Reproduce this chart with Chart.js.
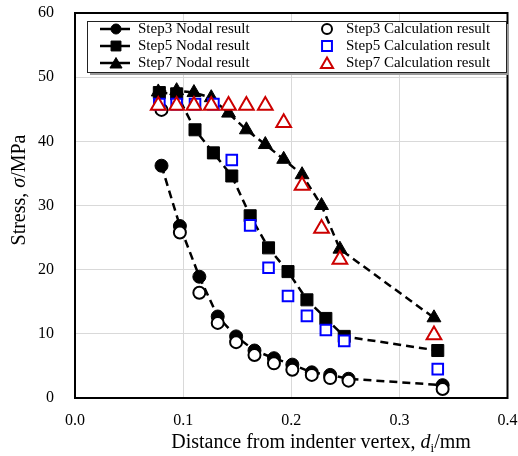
<!DOCTYPE html>
<html>
<head>
<meta charset="utf-8">
<script src="https://cdn.jsdelivr.net/npm/chart.js@4"></script>
<style>
  html, body { margin: 0; padding: 0; background: #fff; }
  #wrap { width: 518px; height: 456px; position: relative; }
</style>
</head>
<body>
<div id="wrap"><canvas id="c"></canvas></div>
<script>
// ---- Data ----
const step3X     = [0.080, 0.097, 0.115, 0.132, 0.149, 0.166, 0.184, 0.201, 0.219, 0.236, 0.253, 0.340];
const step3Nodal = [36.2, 26.8, 18.9, 12.7, 9.6, 7.4, 6.2, 5.2, 4.0, 3.6, 3.0, 2.0];
const step3Calc  = [44.9, 25.8, 16.4, 11.7, 8.7, 6.7, 5.4, 4.4, 3.6, 3.1, 2.7, 1.4];

const step5X     = [0.078, 0.094, 0.111, 0.128, 0.145, 0.162, 0.179, 0.197, 0.2145, 0.232, 0.249, 0.3355];
const step5Nodal = [47.6, 47.4, 41.8, 38.2, 34.6, 28.4, 23.4, 19.7, 15.3, 12.4, 9.6, 7.4];
const step5Calc  = [45.8, 45.8, 45.8, 45.8, 37.1, 26.9, 20.3, 15.9, 12.8, 10.6, 8.9, 4.5];

const step7X     = [0.077, 0.094, 0.110, 0.126, 0.142, 0.1585, 0.176, 0.193, 0.210, 0.228, 0.245, 0.332];
const step7Nodal = [47.7, 47.9, 47.6, 46.8, 44.4, 41.8, 39.5, 37.2, 34.8, 30.0, 23.2, 12.5];
const step7Calc  = [45.6, 45.6, 45.6, 45.6, 45.6, 45.6, 45.6, 42.9, 33.1, 26.4, 21.6, 9.8];

const seriesNames = [
  'Step3 Nodal result', 'Step5 Nodal result', 'Step7 Nodal result',
  'Step3 Calculation result', 'Step5 Calculation result', 'Step7 Calculation result'
];
const xTicks = [0.0, 0.1, 0.2, 0.3, 0.4];
const yTicks = [0, 10, 20, 30, 40, 50, 60];
const xTitleParts = [['Distance from indenter vertex, ', 'normal'], ['d', 'italic'], ['i', 'sub'], ['/mm', 'normal']];
const yTitleParts = [['Stress, ', 'normal'], ['σ', 'italic'], ['/MPa', 'normal']];

// ---- Build datasets ----
const pts = (xs, ys) => xs.map((x, i) => ({ x: x, y: ys[i] }));
const SERIF = '"Liberation Serif", "Times New Roman", serif';

function nodal(label, xs, ys, style, r) {
  return {
    label, data: pts(xs, ys), showLine: true,
    borderColor: '#000', borderWidth: 2.5, borderDash: [8, 5],
    pointStyle: style, pointRadius: r, pointHoverRadius: r,
    pointBackgroundColor: '#000', pointBorderColor: '#000', pointBorderWidth: 1,
    order: 5
  };
}
function calc(label, xs, ys, style, color, r, order) {
  return {
    label, data: pts(xs, ys), showLine: false,
    pointStyle: style, pointRadius: r, pointHoverRadius: r,
    pointBackgroundColor: '#fff', pointBorderColor: color, pointBorderWidth: 2,
    order
  };
}

const datasets = [
  nodal(seriesNames[0], step3X, step3Nodal, 'circle', 6.5),
  nodal(seriesNames[1], step5X, step5Nodal, 'rect', 8.5),
  nodal(seriesNames[2], step7X, step7Nodal, 'triangle', 8),
  calc(seriesNames[3], step3X, step3Calc, 'circle', '#000', 6, 3),
  calc(seriesNames[4], step5X, step5Calc, 'rect', '#0000ff', 7.5, 2),
  calc(seriesNames[5], step7X, step7Calc, 'triangle', '#cc0000', 8.5, 1)
];

// ---- Marker helper (same geometry as Chart.js) ----
function marker(ctx, style, x, y, r, fill, stroke, lw) {
  ctx.save();
  ctx.beginPath();
  if (style === 'circle') {
    ctx.arc(x, y, r, 0, Math.PI * 2);
  } else if (style === 'rect') {
    const s = Math.SQRT1_2 * r;
    ctx.rect(x - s, y - s, 2 * s, 2 * s);
  } else if (style === 'triangle') {
    let a = 0;
    ctx.moveTo(x + Math.sin(a) * r, y - Math.cos(a) * r);
    a += 2 * Math.PI / 3;
    ctx.lineTo(x + Math.sin(a) * r, y - Math.cos(a) * r);
    a += 2 * Math.PI / 3;
    ctx.lineTo(x + Math.sin(a) * r, y - Math.cos(a) * r);
    ctx.closePath();
  }
  ctx.fillStyle = fill; ctx.fill();
  ctx.lineWidth = lw; ctx.strokeStyle = stroke; ctx.stroke();
  ctx.restore();
}

function drawParts(ctx, parts, x, y, size) {
  let cx = x;
  for (const [t, kind] of parts) {
    if (kind === 'sub') {
      ctx.font = (size * 0.65) + 'px ' + SERIF;
      ctx.fillText(t, cx, y + size * 0.22);
    } else {
      ctx.font = (kind === 'italic' ? 'italic ' : '') + size + 'px ' + SERIF;
      ctx.fillText(t, cx, y);
    }
    cx += ctx.measureText(t).width;
  }
  return cx - x;
}
function measureParts(ctx, parts, size) {
  let w = 0;
  for (const [t, kind] of parts) {
    if (kind === 'sub') ctx.font = (size * 0.65) + 'px ' + SERIF;
    else ctx.font = (kind === 'italic' ? 'italic ' : '') + size + 'px ' + SERIF;
    w += ctx.measureText(t).width;
  }
  return w;
}

const decorPlugin = {
  id: 'decor',
  beforeDatasetsDraw(chart) {
    const { ctx, chartArea: a } = chart;
    ctx.save();
    ctx.strokeStyle = '#000';
    ctx.lineWidth = 2;
    ctx.strokeRect(a.left, a.top, a.right - a.left, a.bottom - a.top);
    ctx.restore();
  },
  afterDraw(chart) {
    const { ctx } = chart;
    ctx.save();
    // Axis titles
    ctx.fillStyle = '#000';
    ctx.textBaseline = 'alphabetic';
    ctx.textAlign = 'left';
    const ts = 20;
    const xw = measureParts(ctx, xTitleParts, ts);
    drawParts(ctx, xTitleParts, 321 - xw / 2, 448, ts);
    const yw = measureParts(ctx, yTitleParts, ts);
    ctx.save();
    ctx.translate(25, 190);
    ctx.rotate(-Math.PI / 2);
    drawParts(ctx, yTitleParts, -yw / 2, 0, ts);
    ctx.restore();

    // Legend box
    const bx = 87, by = 21, bw = 419, bh = 51;
    ctx.fillStyle = '#9a9a9a';
    ctx.fillRect(bx + 3, by + 3, bw, bh);
    ctx.fillStyle = '#fff';
    ctx.fillRect(bx, by, bw, bh);
    ctx.strokeStyle = '#222';
    ctx.lineWidth = 1;
    ctx.strokeRect(bx + 0.5, by + 0.5, bw, bh);

    const rows = [29, 46, 63];
    const ds = chart.data.datasets;
    ctx.textBaseline = 'middle';
    for (let i = 0; i < 6; i++) {
      const d = ds[i];
      const col = i < 3 ? 0 : 1;
      const y = rows[i % 3];
      const mx = col === 0 ? 116 : 327;
      const tx = col === 0 ? 138 : 346;
      if (d.showLine) {
        ctx.beginPath();
        ctx.moveTo(100, y); ctx.lineTo(130, y);
        ctx.strokeStyle = '#000'; ctx.lineWidth = 2.5; ctx.stroke();
      }
      const lr = d.pointStyle === 'circle' ? 5 : 7;
      marker(ctx, d.pointStyle, mx, y + (d.pointStyle === 'triangle' ? 1.5 : 0), lr,
             d.pointBackgroundColor, d.pointBorderColor, d.pointBorderWidth);
      ctx.fillStyle = '#000';
      ctx.font = '15px ' + SERIF;
      ctx.fillText(d.label, tx, y + 0.5);
    }
    ctx.restore();
  }
};

new Chart(document.getElementById('c'), {
  type: 'scatter',
  data: { datasets },
  options: {
    responsive: true,
    maintainAspectRatio: false,
    animation: false,
    events: [],
    layout: { padding: { top: 13, right: 10, left: 0, bottom: 0 } },
    plugins: { legend: { display: false }, tooltip: { enabled: false } },
    scales: {
      x: {
        type: 'linear', min: xTicks[0], max: xTicks[xTicks.length - 1],
        afterBuildTicks(s) { s.ticks = xTicks.map(v => ({ value: v })); },
        afterFit(s) { s.height = 58; s.paddingLeft = 0; s.paddingRight = 0; },
        grid: { color: '#d9d9d9', lineWidth: 1, drawTicks: false },
        border: { display: false },
        ticks: {
          padding: 13, color: '#000',
          font: { family: SERIF, size: 16 },
          callback: v => Number(v).toFixed(1)
        }
      },
      y: {
        type: 'linear', min: yTicks[0], max: yTicks[yTicks.length - 1],
        afterBuildTicks(s) { s.ticks = yTicks.map(v => ({ value: v })); },
        afterFit(s) { s.width = 75; s.paddingTop = 0; s.paddingBottom = 0; },
        grid: { color: '#d9d9d9', lineWidth: 1, drawTicks: false },
        border: { display: false },
        ticks: {
          padding: 21, color: '#000',
          font: { family: SERIF, size: 16 },
          callback: v => String(v)
        }
      }
    }
  },
  plugins: [decorPlugin]
});
</script>
</body>
</html>
